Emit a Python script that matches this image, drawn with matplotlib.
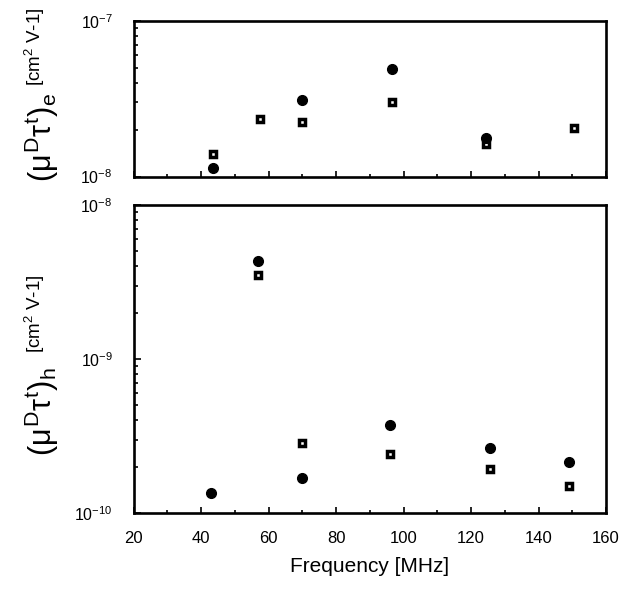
import matplotlib
matplotlib.use("Agg")
import matplotlib.pyplot as plt
from matplotlib.ticker import LogLocator, FixedLocator, NullFormatter

plt.rcParams['font.family'] = ['Liberation Sans', 'DejaVu Sans']
plt.rcParams['mathtext.fontset'] = 'custom'
plt.rcParams['mathtext.rm'] = 'Liberation Sans'
plt.rcParams['mathtext.it'] = 'Liberation Sans'

# Electrons (top panel)
e_circ_freq = [43.6, 70.0, 96.6, 124.4]
e_circ_val = [1.13e-8, 3.11e-8, 4.88e-8, 1.76e-8]
e_sq_freq = [43.6, 57.4, 70.0, 96.6, 124.4, 150.5]
e_sq_val = [1.39e-8, 2.35e-8, 2.23e-8, 3.03e-8, 1.62e-8, 2.05e-8]

# Holes (bottom panel)
h_circ_freq = [43.0, 56.9, 69.8, 95.9, 125.7, 149.0]
h_circ_val = [1.34e-10, 4.31e-9, 1.68e-10, 3.72e-10, 2.65e-10, 2.13e-10]
h_sq_freq = [56.9, 69.8, 95.9, 125.7, 149.0]
h_sq_val = [3.52e-9, 2.85e-10, 2.40e-10, 1.92e-10, 1.49e-10]

x_ticks = [20, 40, 60, 80, 100, 120, 140, 160]
x_minor = [30, 50, 70, 90, 110, 130, 150]

W, H = 631, 592
fig = plt.figure(figsize=(W / 100, H / 100), dpi=100)

def px_axes(left, top, right, bottom):
    return fig.add_axes([left / W, 1 - bottom / H, (right - left) / W, (bottom - top) / H])

ax1 = px_axes(133.5, 21, 606, 176.5)
ax2 = px_axes(133.5, 205, 606, 513)

def style(ax, ylim):
    ax.set_yscale('log')
    ax.set_xlim(20, 160)
    ax.set_ylim(*ylim)
    for s in ax.spines.values():
        s.set_linewidth(1.9)
    ax.xaxis.set_major_locator(FixedLocator(x_ticks))
    ax.xaxis.set_minor_locator(FixedLocator(x_minor))
    ax.tick_params(axis='both', which='both', direction='in', width=1.2)
    ax.tick_params(axis='x', which='major', length=4)
    ax.tick_params(axis='x', which='minor', length=2)
    ax.tick_params(axis='y', which='major', length=5, labelsize=11.5, pad=15)
    ax.tick_params(axis='y', which='minor', length=3)
    ax.yaxis.set_minor_locator(LogLocator(base=10, subs=range(2, 10)))
    ax.yaxis.set_minor_formatter(NullFormatter())

for ax, cf, cv, sf, sv, ylim in [
        (ax1, e_circ_freq, e_circ_val, e_sq_freq, e_sq_val, (1e-8, 1e-7)),
        (ax2, h_circ_freq, h_circ_val, h_sq_freq, h_sq_val, (1e-10, 1e-8))]:
    style(ax, ylim)
    ax.plot(sf, sv, linestyle='none', marker='s', markersize=5,
            markerfacecolor='white', markeredgecolor='black', markeredgewidth=2.5)
    ax.plot(cf, cv, linestyle='none', marker='o', markersize=7,
            color='black')

ax1.tick_params(axis='x', labelbottom=False)
ax2.tick_params(axis='x', labelsize=12, pad=13)
ax2.set_xlabel('Frequency [MHz]', fontsize=15, labelpad=8)

def ylabel(sym, main_y, bracket_y):
    fig.text(52 / W, 1 - main_y / H, sym, rotation=90, rotation_mode='anchor',
             ha='left', va='baseline', fontsize=22)
    fig.text(41 / W, 1 - bracket_y / H, '[cm$^{2}$ V-1]', rotation=90,
             rotation_mode='anchor', ha='left', va='baseline', fontsize=13.5)

ylabel(r'$(\mu^{D}\tau^{t})_{e}$', 182, 86)
ylabel(r'$(\mu^{D}\tau^{t})_{h}$', 456, 353)

fig.savefig('out.png', dpi=100)
